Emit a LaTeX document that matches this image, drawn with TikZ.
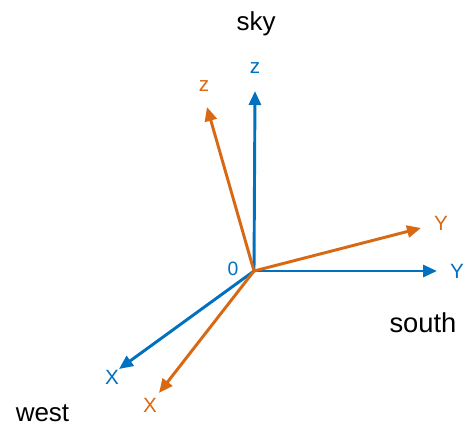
\documentclass[tikz,border=0pt]{standalone}
\usepackage{fontspec}
\setmainfont{Liberation Sans}
\usetikzlibrary{arrows.meta}
\definecolor{axblue}{RGB}{0,112,192}
\definecolor{axorange}{RGB}{217,104,18}
\begin{document}
\begin{tikzpicture}[x=0.75pt,y=-0.75pt,
  axis/.style={line width=2.2pt,-{Triangle[length=10.5pt,width=9pt]}},
  blueax/.style={axis,draw=axblue,fill=axblue},
  orangeax/.style={axis,draw=axorange,fill=axorange},
  blab/.style={text=axblue,font=\fontsize{15.5}{18}\selectfont,inner sep=0pt},
  olab/.style={text=axorange,font=\fontsize{15.5}{18}\selectfont,inner sep=0pt},
  word/.style={font=\fontsize{19.5}{22}\selectfont,inner sep=0pt}]
\useasboundingbox (0,0) rectangle (465,426);
\coordinate (o) at (254,271);
\coordinate (bz) at (255,91);
\coordinate (by) at (437,271);
\coordinate (bx) at (119,369);
\coordinate (oz) at (207,107);
\coordinate (oy) at (421,228);
\coordinate (ox) at (159,393);
\draw[blueax] (o) -- (bz);
\draw[blueax] (o) -- (by);
\draw[blueax] (o) -- (bx);
\draw[orangeax] (o) -- (oz);
\draw[orangeax] (o) -- (oy);
\draw[orangeax] (o) -- (ox);
\node[blab] (lbz) at (255,68) {z};
\node[blab] (lby) at (457,271) {Y};
\node[blab] (lbx) at (112,377) {X};
\node[blab,font=\fontsize{14.5}{17}\selectfont] (l0) at (233,269) {0};
\node[olab] (loz) at (204,86) {z};
\node[olab] (loy) at (441,223) {Y};
\node[olab] (lox) at (150,405) {X};
\node[word] (sky) at (256,24) {sky};
\node[word,font=\fontsize{20.5}{24}\selectfont] (south) at (423,323) {south};
\node[word] (west) at (42.5,413) {west};
\end{tikzpicture}
\end{document}
